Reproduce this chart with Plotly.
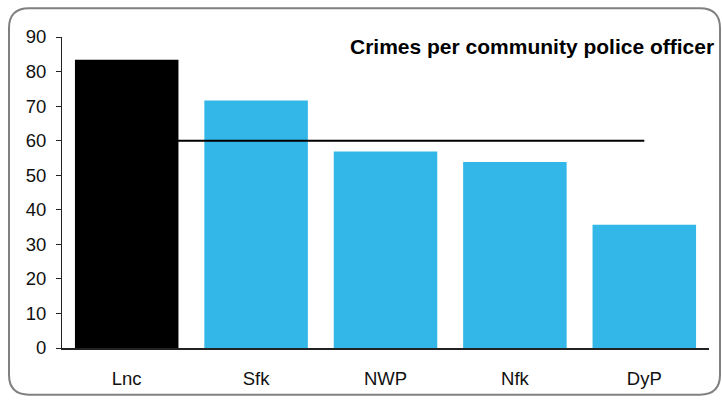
import plotly.graph_objects as go

categories = ["Lnc", "Sfk", "NWP", "Nfk", "DyP"]
values = [83.4, 71.6, 56.9, 53.8, 35.7]
bar_colors = ["#000000", "#33b7e8", "#33b7e8", "#33b7e8", "#33b7e8"]
benchmark = 60
title_text = "Crimes per community police officer"

W, H = 722, 401
L, R, T, B = 62, 13, 37, 51
pw, ph = W - L - R, H - T - B

def px(x):
    return (x - L) / pw

def py(y):
    return (H - B - y) / ph

fig = go.Figure()
fig.add_trace(go.Bar(x=categories, y=values, marker=dict(color=bar_colors, line=dict(width=0)),
                     showlegend=False, hoverinfo="x+y"))
fig.add_trace(go.Scatter(x=[categories[0], categories[-1]], y=[benchmark, benchmark], mode="lines",
                         line=dict(color="#000000", width=2), showlegend=False))

# rounded border
x0, y0, x1, y1, r = 9, 8, 720, 397, 20
rx, ry = r / pw, r / ph
X0, X1 = px(x0), px(x1)
Y0, Y1 = py(y0), py(y1)
path = (f"M {X0+rx},{Y0} L {X1-rx},{Y0} Q {X1},{Y0} {X1},{Y0-ry} "
        f"L {X1},{Y1+ry} Q {X1},{Y1} {X1-rx},{Y1} "
        f"L {X0+rx},{Y1} Q {X0},{Y1} {X0},{Y1+ry} "
        f"L {X0},{Y0-ry} Q {X0},{Y0} {X0+rx},{Y0} Z")
fig.add_shape(type="path", path=path, xref="paper", yref="paper",
              line=dict(color="#808080", width=2), layer="below")

fig.add_annotation(text=f"<b>{title_text}</b>", xref="paper", yref="paper",
                   x=px(716), y=py(47), xanchor="right", yanchor="middle", showarrow=False,
                   font=dict(family="Liberation Sans, Arial", size=21, color="#000000"))

fig.update_layout(
    width=W, height=H, margin=dict(l=L, r=R, t=T, b=B),
    paper_bgcolor="white", plot_bgcolor="white",
    bargap=0.2,
    font=dict(family="Liberation Sans, Arial", size=18, color="#111111"),
    xaxis=dict(showgrid=False, showline=True, linecolor="#222222", linewidth=1.5,
               ticks="", ticklabelstandoff=13, tickfont=dict(size=18.5), zeroline=False),
    yaxis=dict(range=[0, 90], dtick=10, showgrid=False, showline=True, linecolor="#222222",
               linewidth=1, ticks="outside", ticklen=5, tickcolor="#222222",
               ticklabelstandoff=6, zeroline=False, tickfont=dict(size=18.5)),
)
fig.write_html("out.html", config={"displayModeBar": False},
               post_script="document.body.style.margin='0';document.body.style.overflow='hidden';")
